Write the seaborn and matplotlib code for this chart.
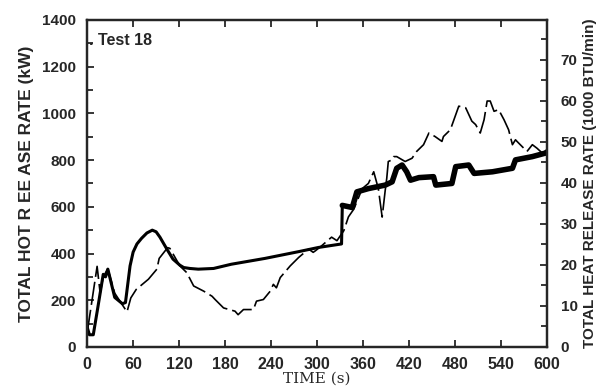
import numpy as np
import pandas as pd
import matplotlib
matplotlib.use("Agg")
import matplotlib.pyplot as plt
from matplotlib.ticker import MultipleLocator
import seaborn as sns

# measured total heat release rate (solid, kW)
time_solid = [0, 3, 8, 14, 21, 24, 27, 36, 46, 50, 56, 60, 65, 71, 78, 85, 90, 95,
              104, 112, 121, 126, 134, 145, 165, 188, 232, 276, 302, 332, 333, 346,
              352, 367, 389, 398, 404, 411, 417, 422, 433, 452, 455, 476, 481, 498,
              505, 529, 555, 559, 581, 598, 600]
hrr_solid = [85, 52, 52, 170, 311, 300, 333, 212, 185, 190, 347, 406, 441, 465, 488,
             500, 493, 470, 419, 376, 350, 340, 336, 333, 336, 354, 379, 408, 426,
             441, 606, 597, 664, 678, 693, 707, 765, 779, 750, 714, 725, 729, 693,
             700, 772, 779, 743, 750, 765, 801, 815, 830, 835]

# second estimate (dashed, kW)
time_dash = [0, 13, 17, 21, 27, 36, 45, 52, 57, 64, 80, 91, 94, 105, 108, 121, 130,
             139, 152, 163, 167, 178, 193, 197, 204, 217, 221, 230, 239, 243, 247,
             252, 265, 276, 289, 295, 298, 306, 319, 326, 335, 341, 348, 359, 367,
             374, 380, 385, 389, 391, 393, 398, 400, 404, 415, 424, 430, 439, 446,
             454, 463, 465, 474, 485, 494, 502, 507, 513, 518, 522, 526, 531, 537,
             544, 550, 555, 559, 561, 574, 581, 587, 594, 600]
hrr_dash = [60, 345, 230, 300, 335, 230, 185, 150, 210, 246, 290, 333, 379, 425, 422,
            347, 318, 261, 239, 217, 203, 167, 153, 138, 160, 160, 196, 203, 239, 268,
            253, 297, 347, 383, 419, 405, 412, 433, 470, 455, 498, 557, 590, 678, 700,
            750, 678, 556, 671, 722, 794, 801, 815, 815, 794, 808, 837, 866, 916, 901,
            880, 901, 930, 1031, 1024, 967, 952, 916, 973, 1053, 1053, 1009, 1016, 973,
            930, 866, 887, 880, 837, 866, 851, 830, 840]

x_ticks = list(range(0, 601, 60))
left_ticks = list(range(0, 1401, 200))
right_ticks = list(range(0, 71, 10))
KW_PER_KBTU_MIN = 17.58

sns.set_style("ticks")
plt.rcParams['font.family'] = ['Liberation Sans', 'DejaVu Sans']

df_solid = pd.DataFrame({"time": time_solid, "hrr": hrr_solid})
df_dash = pd.DataFrame({"time": time_dash, "hrr": hrr_dash})

fig = plt.figure(figsize=(6.01, 3.92), dpi=100)
ax = fig.add_axes([0.145, 0.115, 0.765, 0.834])

sns.lineplot(data=df_dash, x="time", y="hrr", ax=ax, color="black", lw=1.2,
             linestyle=(0, (14, 3)), sort=False)
sns.lineplot(data=df_solid, x="time", y="hrr", ax=ax, color="black", lw=2.2,
             sort=False, solid_joinstyle="round")
# noisy late part of the measured curve looks like a wide band
sns.lineplot(data=df_solid[df_solid["time"] >= 333], x="time", y="hrr", ax=ax,
             color="black", lw=4, sort=False, solid_joinstyle="round")

ax.set_xlim(0, 600)
ax.set_ylim(0, 1400)
ax.set_xticks(x_ticks)
ax.set_yticks(left_ticks)
ax.yaxis.set_minor_locator(MultipleLocator(100))
ax.tick_params(axis="both", which="both", direction="in", top=True, width=1.3)
ax.tick_params(axis="x", labelsize=11.5, pad=7)
ax.tick_params(axis="y", labelsize=11, pad=8)
ax.tick_params(which="major", length=5)
ax.tick_params(which="minor", length=4)
for lab in ax.get_xticklabels() + ax.get_yticklabels():
    lab.set_fontweight("bold")
for sp in ax.spines.values():
    sp.set_linewidth(1.6)
    sp.set_color("black")

ax.set_xlabel("TIME (s)", family="DejaVu Serif", fontsize=11, labelpad=0)
ax.set_ylabel("TOTAL HOT R EE ASE RATE (kW)", fontsize=12.5, fontweight="bold",
              labelpad=6)
ax.text(0.003, 0.96, ". Test 18", transform=ax.transAxes, fontsize=11.5,
        fontweight="bold", va="top")

ax2 = ax.twinx()
ax2.set_ylim(0, 1400 / KW_PER_KBTU_MIN)
ax2.set_yticks(right_ticks)
ax2.yaxis.set_minor_locator(MultipleLocator(5))
ax2.tick_params(axis="y", which="both", direction="in", labelsize=11, width=1.3,
                pad=10)
ax2.tick_params(which="major", length=5)
ax2.tick_params(which="minor", length=4)
for lab in ax2.get_yticklabels():
    lab.set_fontweight("bold")
ax2.set_ylabel("TOTAL HEAT RELEASE RATE (1000 BTU/min)", fontsize=11,
               fontweight="bold", labelpad=4)
for sp in ax2.spines.values():
    sp.set_linewidth(1.6)

fig.savefig("out.png", dpi=100)
